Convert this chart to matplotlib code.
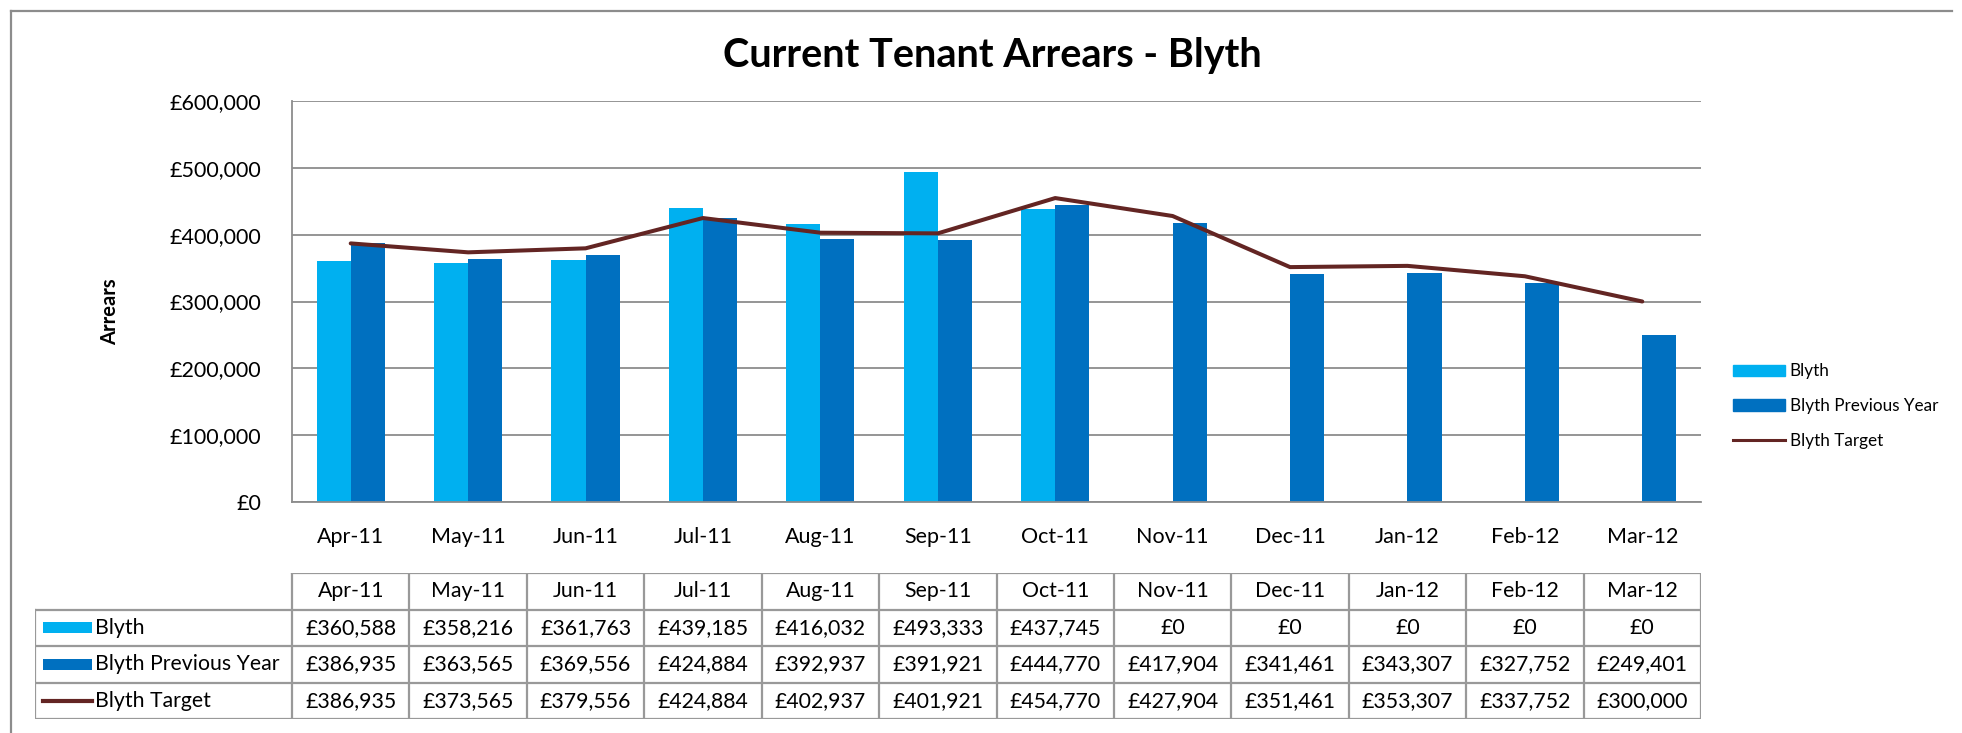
import matplotlib
matplotlib.use('Agg')
import matplotlib.pyplot as plt
from matplotlib.lines import Line2D
from matplotlib.patches import Patch, Rectangle
from matplotlib.ticker import FuncFormatter
import numpy as np

# data
months = ['Apr-11', 'May-11', 'Jun-11', 'Jul-11', 'Aug-11', 'Sep-11',
          'Oct-11', 'Nov-11', 'Dec-11', 'Jan-12', 'Feb-12', 'Mar-12']
blyth = [360588, 358216, 361763, 439185, 416032, 493333, 437745, 0, 0, 0, 0, 0]
prev_year = [386935, 363565, 369556, 424884, 392937, 391921, 444770,
             417904, 341461, 343307, 327752, 249401]
target = [386935, 373565, 379556, 424884, 402937, 401921, 454770,
          427904, 351461, 353307, 337752, 300000]
series_names = ['Blyth', 'Blyth Previous Year', 'Blyth Target']

LIGHT = '#00B0F0'
DARK = '#0070C0'
MAROON = '#632523'
GRID = '#8C8C8C'

W, H = 1962, 733
plt.rcParams['font.family'] = ['Lato', 'DejaVu Sans']
fig = plt.figure(figsize=(W / 100, H / 100), dpi=100)


def fx(px):
    return px / W


def fy(py):
    return 1 - py / H


money = lambda v: '£{:,.0f}'.format(v)

# main chart
ax = fig.add_axes([fx(292), fy(502), fx(1701) - fx(292), fy(101) - fy(502)])
x = np.arange(len(months))
w = 0.29
ax.bar(x - w / 2, blyth, w, color=LIGHT, zorder=2)
ax.bar(x + w / 2, prev_year, w, color=DARK, zorder=2)
ax.plot(x, target, color=MAROON, lw=2.9, zorder=3, solid_capstyle='round')
ax.set_xlim(-0.5, 11.5)
ax.set_ylim(0, 600000)
ax.set_yticks(np.arange(0, 600001, 100000))
ax.yaxis.set_major_formatter(FuncFormatter(lambda v, p: money(v)))
ax.set_xticks(x)
ax.set_xticklabels(months)
ax.grid(axis='y', color=GRID, lw=1.3, zorder=0)
ax.set_axisbelow(True)
for s in ['top', 'right']:
    ax.spines[s].set_visible(False)
for s in ['left', 'bottom']:
    ax.spines[s].set_color(GRID)
    ax.spines[s].set_linewidth(1.3)
ax.tick_params(axis='both', length=0, labelsize=15.5)
ax.tick_params(axis='y', pad=22)
ax.tick_params(axis='x', pad=18)

fig.text(fx(110), fy(312), 'Arrears', rotation=90, ha='center', va='center',
         fontsize=14.5, fontweight='bold')
fig.text(fx(992), fy(55), 'Current Tenant Arrears - Blyth', ha='center',
         va='center', fontsize=28.5, fontweight='bold')

handles = [Patch(color=LIGHT), Patch(color=DARK), Line2D([], [], color=MAROON, lw=2.2)]
fig.legend(handles, series_names, loc='center left',
           bbox_to_anchor=(fx(1718), fy(406)), frameon=False, fontsize=12.3,
           handlelength=3.0, handleheight=0.65, labelspacing=1.1,
           handletextpad=0.3)

# data table under the chart
col_w = (1701 - 292) / len(months)
x0 = -0.5 - (292 - 35) / col_w
tax = fig.add_axes([fx(35), fy(719), fx(1701) - fx(35), fy(573) - fy(719)])
tax.set_xlim(x0, 11.5)
tax.set_ylim(4, 0)
tax.axis('off')
lc = dict(color='#999999', lw=1.6, solid_capstyle='projecting')
tax.plot([-0.5, 11.5], [0, 0], **lc)
for r in range(1, 5):
    tax.plot([x0, 11.5], [r, r], **lc)
for k in range(len(months) + 1):
    tax.plot([k - 0.5, k - 0.5], [0, 4], **lc)
tax.plot([x0, x0], [1, 4], **lc)

for i, m in enumerate(months):
    tax.text(i, 0.5, m, ha='center', va='center', fontsize=15.3)
for r, vals in enumerate([blyth, prev_year, target], start=1):
    for i, v in enumerate(vals):
        tax.text(i, r + 0.5, money(v), ha='center', va='center', fontsize=15.3)

kx0 = x0 + (43 - 35) / col_w
kx1 = x0 + (92 - 35) / col_w
kh = 0.3
tax.add_patch(Rectangle((kx0, 1.5 - kh / 2), kx1 - kx0, kh, color=LIGHT, lw=0))
tax.add_patch(Rectangle((kx0, 2.5 - kh / 2), kx1 - kx0, kh, color=DARK, lw=0))
tax.plot([kx0, kx1], [3.5, 3.5], color=MAROON, lw=3)
for r, name in enumerate(series_names, start=1):
    tax.text(x0 + (95 - 35) / col_w, r + 0.5, name, ha='left', va='center',
             fontsize=15.3)

# outer chart border
fig.add_artist(Line2D([fx(11), fx(11)], [fy(11), 0], color='#8C8C8C', lw=1.6))
fig.add_artist(Line2D([fx(11), fx(1952)], [fy(11), fy(11)], color='#8C8C8C', lw=1.6))

fig.savefig('out.png', dpi=100)
plt.close(fig)
